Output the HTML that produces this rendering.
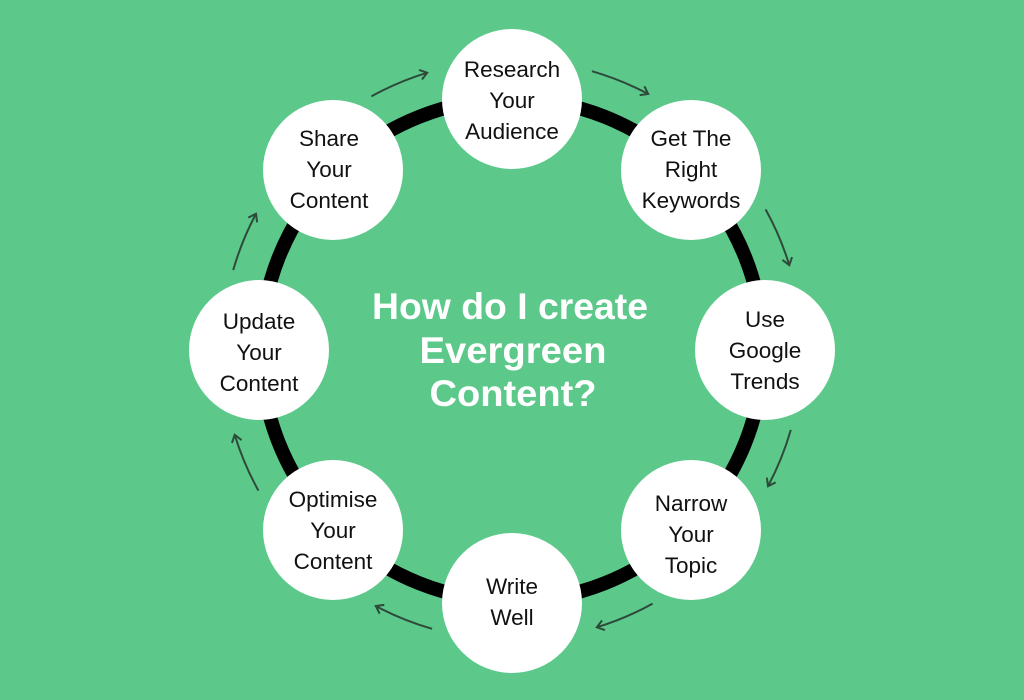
<!DOCTYPE html>
<html><head><meta charset="utf-8"><style>
html,body{margin:0;padding:0;background:#5cc98b;}
svg{display:block}
.n{font-family:"Liberation Sans",sans-serif;font-size:22.5px;fill:#111;text-anchor:middle}
.t{font-family:"Liberation Sans",sans-serif;font-weight:bold;font-size:37px;fill:#fff;text-anchor:middle}
.a{fill:none;stroke:#2e4a3a;stroke-width:2;marker-end:url(#m)}
</style></head><body>
<svg width="1024" height="700" viewBox="0 0 1024 700">
<defs><marker id="m" markerWidth="12" markerHeight="12" refX="9" refY="6" orient="auto" markerUnits="userSpaceOnUse"><path d="M2,1 L9,6 L2,11" fill="none" stroke="#2e4a3a" stroke-width="2"/></marker></defs>
<rect width="1024" height="700" fill="#5cc98b"/>
<circle cx="512" cy="350" r="251" fill="none" stroke="#000" stroke-width="14"/>
<path class="a" d="M591.9,71.2 A290,290 0 0 1 648.2,94.0"/>
<path class="a" d="M765.6,209.4 A290,290 0 0 1 789.3,265.2"/>
<path class="a" d="M790.8,429.9 A290,290 0 0 1 768.0,486.2"/>
<path class="a" d="M652.6,603.6 A290,290 0 0 1 596.8,627.3"/>
<path class="a" d="M432.1,628.8 A290,290 0 0 1 375.8,606.0"/>
<path class="a" d="M258.4,490.6 A290,290 0 0 1 234.7,434.8"/>
<path class="a" d="M233.2,270.1 A290,290 0 0 1 256.0,213.8"/>
<path class="a" d="M371.4,96.4 A290,290 0 0 1 427.2,72.7"/>
<g fill="#fff">
<circle cx="512" cy="99" r="70"/><circle cx="691" cy="170" r="70"/><circle cx="765" cy="350" r="70"/><circle cx="691" cy="530" r="70"/>
<circle cx="512" cy="603" r="70"/><circle cx="333" cy="530" r="70"/><circle cx="259" cy="350" r="70"/><circle cx="333" cy="170" r="70"/>
</g>
<text class="n" x="512" y="77">Research</text><text class="n" x="512" y="108">Your</text><text class="n" x="512" y="139">Audience</text>
<text class="n" x="691" y="146">Get The</text><text class="n" x="691" y="177">Right</text><text class="n" x="691" y="208">Keywords</text>
<text class="n" x="765" y="327">Use</text><text class="n" x="765" y="358">Google</text><text class="n" x="765" y="389">Trends</text>
<text class="n" x="691" y="511">Narrow</text><text class="n" x="691" y="542">Your</text><text class="n" x="691" y="573">Topic</text>
<text class="n" x="512" y="594">Write</text><text class="n" x="512" y="625">Well</text>
<text class="n" x="333" y="507">Optimise</text><text class="n" x="333" y="538">Your</text><text class="n" x="333" y="569">Content</text>
<text class="n" x="259" y="329">Update</text><text class="n" x="259" y="360">Your</text><text class="n" x="259" y="391">Content</text>
<text class="n" x="329" y="146">Share</text><text class="n" x="329" y="177">Your</text><text class="n" x="329" y="208">Content</text>
<text class="t" x="510" y="319" textLength="276" lengthAdjust="spacingAndGlyphs">How do I create</text>
<text class="t" x="513" y="363" textLength="187" lengthAdjust="spacingAndGlyphs">Evergreen</text>
<text class="t" x="513" y="406" textLength="167" lengthAdjust="spacingAndGlyphs">Content?</text>
</svg>
</body></html>
